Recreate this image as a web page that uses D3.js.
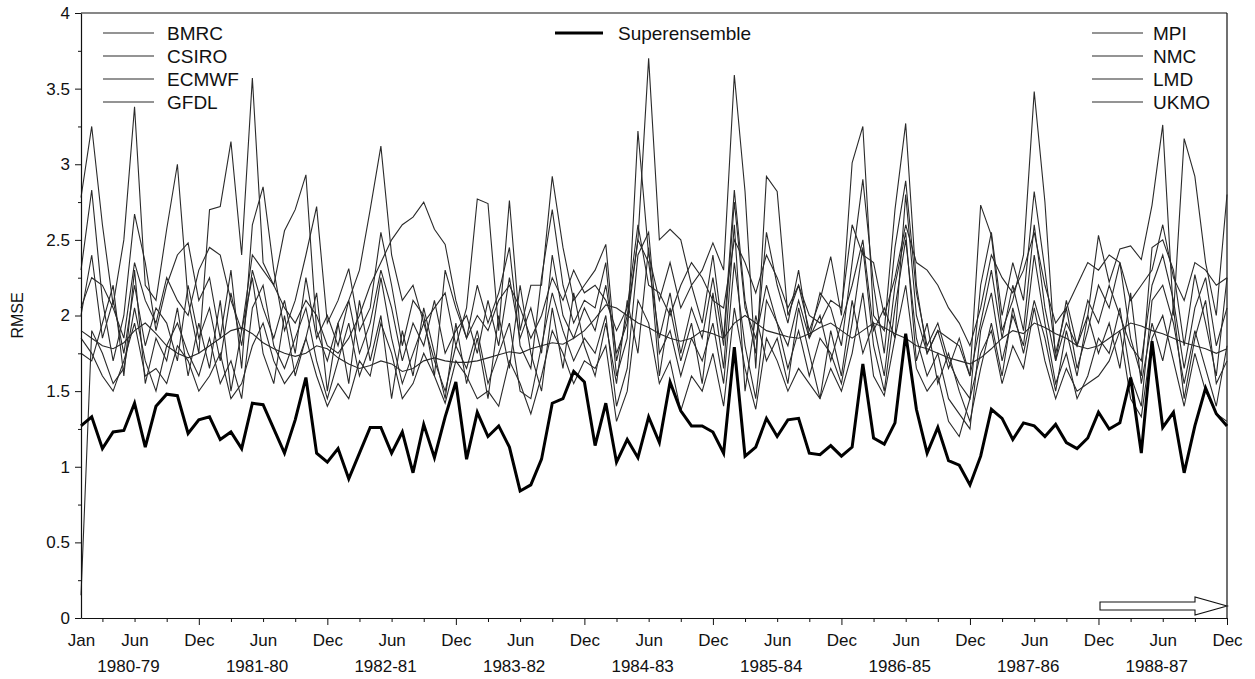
<!DOCTYPE html>
<html><head><meta charset="utf-8">
<script src="https://cdn.jsdelivr.net/npm/d3@7"></script>
<style>
body{margin:0;background:#fff}
svg{display:block}
text{font-family:"Liberation Sans",Arial,Helvetica,sans-serif;fill:#111}
</style>
</head><body>
<svg id="chart" width="1255" height="679"></svg>
<script>
// ---------------- data ----------------
const monthNames = ["Jan","Feb","Mar","Apr","May","Jun","Jul","Aug","Sep","Oct","Nov","Dec"];
const yearLabels = ["1980-79","1981-80","1982-81","1983-82","1984-83","1985-84","1986-85","1987-86","1988-87"];
const yTicks = [0,0.5,1,1.5,2,2.5,3,3.5,4];
const leftLegend = ["BMRC","CSIRO","ECMWF","GFDL"];
const rightLegend = ["MPI","NMC","LMD","UKMO"];
const superLabel = "Superensemble";

const superensemble = [
1.27,1.33,1.12,1.23,1.24,1.42,1.13,1.40,1.48,1.47,1.22,1.31,
1.33,1.18,1.23,1.12,1.42,1.41,1.25,1.09,1.31,1.59,1.09,1.03,
1.12,0.92,1.09,1.26,1.26,1.09,1.23,0.96,1.28,1.06,1.33,1.56,
1.05,1.36,1.20,1.27,1.13,0.84,0.88,1.05,1.42,1.45,1.63,1.56,
1.14,1.42,1.03,1.18,1.06,1.33,1.16,1.56,1.37,1.27,1.27,1.23,
1.09,1.79,1.07,1.13,1.32,1.20,1.31,1.32,1.09,1.08,1.14,1.07,
1.13,1.68,1.19,1.15,1.29,1.88,1.38,1.09,1.26,1.04,1.01,0.88,
1.07,1.38,1.32,1.18,1.29,1.27,1.20,1.28,1.16,1.12,1.19,1.36,
1.25,1.29,1.59,1.09,1.83,1.26,1.36,0.96,1.27,1.52,1.35,1.27];

const bmrc = [
2.78,3.25,2.60,2.07,2.50,3.38,2.20,2.10,2.57,3.00,2.10,1.75,
2.70,2.72,3.15,2.40,3.57,2.35,2.20,2.56,2.70,2.93,1.90,1.70,
1.95,2.10,2.30,2.70,3.12,2.40,2.10,2.20,1.95,2.05,2.15,1.80,
2.05,2.77,2.74,1.90,2.76,1.90,2.20,2.20,2.92,2.45,2.10,2.20,
2.30,2.47,1.70,2.00,2.50,3.70,2.50,2.57,2.50,2.20,2.30,2.48,
2.30,3.59,2.82,1.65,2.92,2.82,2.00,2.20,1.90,2.10,2.39,2.00,
3.01,3.25,2.00,1.90,2.70,3.27,2.20,1.75,1.90,1.85,1.80,1.60,
2.73,2.53,1.90,2.10,2.40,3.48,2.75,1.70,2.10,1.80,2.00,2.53,
2.22,2.44,2.46,2.37,2.73,3.26,2.00,3.17,2.92,2.35,2.00,2.80];

const csiro = [
2.30,2.83,2.10,1.70,2.00,2.67,2.35,1.90,2.20,2.40,2.48,2.10,
2.25,1.85,2.30,1.65,2.60,2.85,2.30,1.90,2.10,2.40,2.72,1.95,
2.10,2.31,1.90,2.05,2.55,2.20,1.80,2.10,2.00,1.60,2.30,2.05,
1.85,2.20,1.95,2.15,2.45,1.80,1.65,2.25,2.70,2.20,1.95,2.10,
2.05,2.35,1.60,1.85,3.22,2.40,2.10,2.35,2.05,2.20,1.95,2.40,
1.85,2.83,2.10,1.75,2.55,2.20,1.95,2.30,1.85,2.15,2.05,1.80,
2.35,2.90,2.20,1.75,2.45,2.89,2.15,1.80,1.95,1.70,1.55,1.45,
2.20,2.55,2.00,2.35,2.10,2.82,2.30,1.75,2.05,1.65,1.90,2.20,
2.05,2.35,1.85,1.60,2.45,2.50,2.30,1.80,2.27,1.95,1.60,2.25];

const ecmwf = [
0.15,1.90,1.75,1.55,1.65,2.05,1.70,1.50,1.80,1.95,1.75,1.60,
1.85,1.55,1.70,1.45,2.05,2.20,1.80,1.65,1.85,2.05,1.70,1.45,
1.70,1.95,1.60,1.80,2.25,1.85,1.55,1.75,1.95,1.70,1.50,1.80,
1.65,1.90,1.55,1.75,1.95,1.50,1.45,1.80,2.15,1.90,1.70,1.85,
1.75,2.00,1.40,1.65,2.40,2.55,1.75,1.90,1.60,1.85,1.70,1.95,
1.55,2.35,1.80,1.45,2.10,1.95,1.65,1.90,1.60,1.85,1.75,1.55,
1.95,2.45,1.80,1.50,2.05,2.50,1.85,1.60,1.75,1.45,1.35,1.25,
1.90,2.15,1.70,2.00,1.80,2.40,1.95,1.55,1.75,1.45,1.60,1.85,
1.75,2.05,1.60,1.40,2.10,2.20,1.95,1.55,1.90,1.65,1.40,1.80];

const gfdl = [
1.90,1.85,1.80,1.78,1.82,1.90,1.95,1.88,1.80,1.75,1.72,1.75,
1.80,1.85,1.90,1.92,1.88,1.82,1.78,1.75,1.73,1.75,1.80,1.78,
1.72,1.68,1.65,1.67,1.70,1.68,1.63,1.65,1.70,1.72,1.70,1.69,
1.69,1.70,1.72,1.74,1.76,1.75,1.78,1.80,1.82,1.81,1.85,1.90,
1.98,2.07,2.05,2.00,1.95,1.92,1.88,1.85,1.83,1.85,1.90,1.88,
1.85,1.95,2.00,1.95,1.90,1.88,1.86,1.85,1.88,1.92,1.95,1.90,
1.85,1.90,1.95,1.92,1.88,1.85,1.80,1.78,1.75,1.72,1.70,1.68,
1.72,1.78,1.85,1.90,1.88,1.95,1.92,1.88,1.85,1.80,1.78,1.80,
1.85,1.90,1.95,1.93,1.90,1.88,1.85,1.82,1.80,1.78,1.75,1.78];

const mpi = [
1.75,1.70,1.95,2.20,1.60,2.30,1.55,1.85,1.70,2.05,1.60,1.95,
1.65,2.10,1.50,1.90,2.25,1.75,1.55,2.00,1.60,1.85,2.15,1.50,
1.95,1.55,2.10,1.70,2.00,1.45,1.90,1.60,2.05,1.75,1.45,1.95,
1.55,1.85,1.45,2.00,1.65,2.20,1.75,1.50,2.05,1.65,2.15,1.80,
1.60,1.95,1.55,2.10,1.75,2.45,1.60,2.05,1.70,1.95,1.55,2.15,
1.65,2.60,1.50,2.00,1.70,1.85,1.55,2.05,1.75,1.45,1.90,1.60,
2.10,1.75,1.95,1.60,2.20,2.55,1.70,1.95,1.55,1.75,1.50,1.30,
1.65,1.95,1.60,2.05,1.75,2.10,1.85,1.50,1.90,1.60,2.00,1.75,
1.95,1.65,2.15,1.55,1.95,1.70,2.05,1.45,1.85,2.10,1.55,1.70];

const nmc = [
2.05,2.25,2.20,2.05,1.85,2.35,2.10,1.95,2.25,2.10,2.00,2.30,
2.45,2.40,2.10,1.90,2.40,2.30,2.20,2.05,1.95,2.10,2.00,1.80,
1.75,1.85,2.00,2.20,2.35,2.50,2.60,2.65,2.75,2.57,2.47,2.10,
1.85,2.00,1.90,2.10,2.20,2.05,1.85,2.00,2.25,2.10,2.30,2.15,
2.20,2.10,1.90,2.05,2.60,2.20,2.15,2.00,2.20,2.35,2.25,2.10,
2.05,2.50,2.35,2.15,2.40,2.25,2.05,2.20,2.00,1.95,2.10,2.05,
2.60,2.40,2.35,2.00,2.25,2.60,2.35,2.30,2.20,2.05,1.95,1.80,
2.05,2.40,2.25,2.15,2.30,2.55,2.20,1.95,2.05,2.20,2.35,2.30,
2.40,2.35,2.10,2.20,2.30,2.60,2.25,2.10,2.35,2.30,2.20,2.25];

const lmd = [
1.85,1.75,1.60,1.50,1.70,1.95,1.60,1.65,1.55,1.80,1.70,1.50,
1.60,1.75,1.45,1.55,1.80,1.95,1.70,1.55,1.65,1.85,1.60,1.40,
1.55,1.45,1.70,1.60,1.95,1.75,1.45,1.55,1.75,1.60,1.42,1.70,
1.60,1.45,1.50,1.40,1.70,1.55,1.35,1.60,1.90,1.75,1.55,1.70,
1.65,1.80,1.30,1.50,2.10,1.95,1.55,1.70,1.37,1.60,1.50,1.75,
1.40,2.05,1.65,1.38,1.85,1.70,1.50,1.65,1.55,1.45,1.65,1.50,
1.75,2.15,1.60,1.47,1.85,2.20,1.65,1.50,1.60,1.30,1.20,1.45,
1.75,1.90,1.55,1.80,1.65,2.05,1.70,1.45,1.65,1.50,1.55,1.60,
1.70,1.90,1.45,1.33,1.85,2.00,1.70,1.40,1.75,1.50,1.35,1.30];

const ukmo = [
2.00,2.40,1.85,2.10,1.75,2.20,1.80,2.05,1.95,1.70,2.20,1.85,
2.05,1.70,2.15,1.80,2.30,2.05,1.85,2.10,1.75,2.25,1.85,2.00,
1.80,2.10,1.75,1.95,2.30,2.05,1.70,1.95,1.80,2.10,1.75,1.90,
2.00,1.75,2.10,1.80,2.25,1.85,2.05,1.75,2.40,2.00,1.85,2.05,
1.90,2.20,1.75,1.95,2.50,2.35,1.85,2.15,1.75,2.05,1.85,2.25,
1.80,2.75,2.05,1.85,2.20,1.95,1.80,2.10,1.85,2.00,1.70,1.95,
2.20,2.50,1.90,2.05,1.85,2.80,2.00,1.75,1.90,1.65,1.85,1.60,
1.95,2.30,1.85,2.20,1.90,2.60,2.05,1.70,1.95,1.80,2.10,1.95,
2.20,2.00,1.80,1.70,2.20,2.40,2.10,1.65,2.05,2.25,1.80,2.05];

const models = [bmrc, csiro, ecmwf, gfdl, mpi, nmc, lmd, ukmo];

// ---------------- chart ----------------
const svg = d3.select("#chart");
const m = {left:81, right:1227, top:13, bottom:618};
const nMonths = superensemble.length;
models.forEach(s => { if (s.length !== nMonths) throw new Error("bad length " + s.length); });

const x = d3.scaleLinear().domain([0, nMonths - 1]).range([m.left, m.right]);
const y = d3.scaleLinear().domain([0, 4]).range([m.bottom, m.top]);

const tickFont = "17px";
const legendFont = "19px";

// frame top/right
svg.append("line").attr("x1", m.left).attr("x2", m.right).attr("y1", m.top).attr("y2", m.top)
  .attr("stroke", "#111").attr("stroke-width", 1.2);
svg.append("line").attr("x1", m.right).attr("x2", m.right).attr("y1", m.top).attr("y2", m.bottom)
  .attr("stroke", "#111").attr("stroke-width", 1.2);

// model lines
const line = d3.line().x((d, i) => x(i)).y(d => y(d));
const plot = svg.append("g");
models.forEach(s => {
  plot.append("path").datum(s).attr("d", line)
    .attr("fill", "none").attr("stroke", "#2a2a2a").attr("stroke-width", 1.1)
    .attr("stroke-linejoin", "miter");
});
plot.append("path").datum(superensemble).attr("d", line)
  .attr("fill", "none").attr("stroke", "#000").attr("stroke-width", 3)
  .attr("stroke-linejoin", "miter");

// y axis
const yMinor = d3.range(0, 4.01, 0.25);
const yAxis = d3.axisLeft(y).tickValues(yMinor).tickSize(0)
  .tickFormat(d => (yTicks.includes(d) ? d3.format("~g")(d) : ""));
const gy = svg.append("g").attr("transform", `translate(${m.left},0)`).call(yAxis);
gy.select(".domain").attr("stroke", "#111").attr("stroke-width", 1.2);
gy.selectAll(".tick line").attr("stroke", "#111")
  .attr("x2", d => (yTicks.includes(d) ? -6 : -3));
gy.selectAll(".tick text").attr("x", -11).style("font-size", tickFont).attr("fill", "#111");

svg.append("text").attr("transform", `translate(23,${y(2)}) rotate(-90)`)
  .attr("text-anchor", "middle").style("font-size", "16px").text("RMSE");

// x axis
const quarterly = d3.range(0, nMonths).filter(i => i % 3 === 2 || i === 0);
const labelled = d3.range(0, nMonths).filter(i => i === 0 || i % 12 === 5 || i % 12 === 11);
const xAxis = d3.axisBottom(x).tickValues(quarterly).tickSize(0)
  .tickFormat(i => (labelled.includes(i) ? monthNames[i % 12] : ""));
const gx = svg.append("g").attr("transform", `translate(0,${m.bottom})`).call(xAxis);
gx.select(".domain").attr("stroke", "#111").attr("stroke-width", 1.2);
gx.selectAll(".tick line").attr("stroke", "#111")
  .attr("y2", i => (i % 12 === 11 ? 7 : (i === 0 ? 0 : 4)));
gx.selectAll(".tick text").attr("y", 16).style("font-size", tickFont).attr("fill", "#111");

// year labels under Jun ticks
svg.append("g").selectAll("text").data(yearLabels).join("text")
  .attr("x", (d, k) => x(5 + 12 * k) - 6).attr("y", 672)
  .attr("text-anchor", "middle").style("font-size", tickFont).text(d => d);

// legends
function legend(names, lx, tx) {
  const g = svg.append("g");
  names.forEach((n, k) => {
    const yy = 33 + k * 23;
    g.append("line").attr("x1", lx).attr("x2", lx + 51).attr("y1", yy).attr("y2", yy)
      .attr("stroke", "#2a2a2a").attr("stroke-width", 1.2);
    g.append("text").attr("x", tx).attr("y", yy + 7).style("font-size", legendFont).text(n);
  });
}
legend(leftLegend, 103, 167);
legend(rightLegend, 1092, 1153);
svg.append("line").attr("x1", 555).attr("x2", 603).attr("y1", 33).attr("y2", 33)
  .attr("stroke", "#000").attr("stroke-width", 3);
svg.append("text").attr("x", 618).attr("y", 40).style("font-size", legendFont).text(superLabel);

// hollow arrow at bottom right
const ax0 = x(nMonths - 1) - 127, ax1 = x(nMonths - 1), ay = 606;
const arrow = [[ax0, ay - 4], [ax1 - 32, ay - 4], [ax1 - 32, ay - 9], [ax1, ay],
               [ax1 - 32, ay + 9], [ax1 - 32, ay + 4], [ax0, ay + 4]];
svg.append("path").attr("d", d3.line()(arrow) + "Z")
  .attr("fill", "#fff").attr("stroke", "#111").attr("stroke-width", 1.1);
</script>
</body></html>
